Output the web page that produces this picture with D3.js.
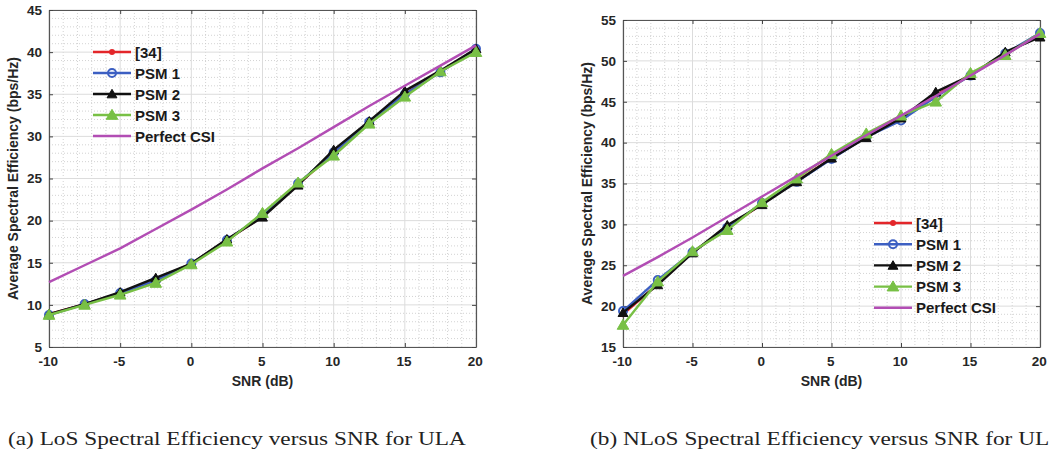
<!DOCTYPE html>
<html>
<head>
<meta charset="utf-8">
<script src="https://d3js.org/d3.v7.min.js"></script>
<style>
  body { margin: 0; background: #fff; }
  svg { display: block; }
</style>
</head>
<body>
<svg id="vis"></svg>
<script>
// ---- data ----
const snr = [-10, -7.5, -5, -2.5, 0, 2.5, 5, 7.5, 10, 12.5, 15, 17.5, 20];
const seriesNames = ["[34]", "PSM 1", "PSM 2", "PSM 3", "Perfect CSI"];

// (a) LoS
const losRef34   = [8.9, 10.1, 11.4, 12.9, 14.9, 17.7, 20.5, 24.3, 28.0, 31.7, 35.0, 37.7, 40.3];
const losPsm1    = [8.8, 10.1, 11.4, 12.9, 14.9, 17.7, 20.6, 24.4, 28.1, 31.7, 35.0, 37.6, 40.4];
const losPsm2    = [8.9, 10.1, 11.5, 13.2, 14.9, 17.8, 20.4, 24.2, 28.4, 31.8, 35.4, 37.8, 40.4];
const losPsm3    = [8.8, 10.0, 11.2, 12.6, 14.8, 17.5, 20.9, 24.5, 27.7, 31.5, 34.7, 37.7, 40.0];
const losPerfect = [12.7, 14.7, 16.7, 19.0, 21.3, 23.7, 26.2, 28.6, 31.1, 33.6, 36.0, 38.4, 40.8];

// (b) NLoS
const nlosRef34   = [19.0, 22.7, 26.6, 29.6, 32.5, 35.3, 38.1, 40.7, 43.0, 45.8, 48.3, 50.9, 53.2];
const nlosPsm1    = [19.4, 23.2, 26.6, 29.6, 32.6, 35.2, 38.0, 40.7, 42.7, 45.6, 48.2, 50.9, 53.4];
const nlosPsm2    = [19.2, 22.6, 26.5, 29.9, 32.4, 35.2, 38.1, 40.6, 43.0, 46.2, 48.2, 51.1, 52.9];
const nlosPsm3    = [17.7, 23.0, 26.7, 29.3, 32.7, 35.6, 38.6, 41.1, 43.3, 45.0, 48.5, 50.7, 53.4];
const nlosPerfect = [23.7, 26.0, 28.4, 30.9, 33.4, 35.9, 38.4, 40.9, 43.3, 45.7, 48.2, 50.7, 53.3];

const xTicks = [-10, -5, 0, 5, 10, 15, 20];
const losYTicks = [5, 10, 15, 20, 25, 30, 35, 40, 45];
const nlosYTicks = [15, 20, 25, 30, 35, 40, 45, 50, 55];

const captionA = "(a) LoS Spectral Efficiency versus SNR for ULA";
const captionB = "(b) NLoS Spectral Efficiency versus SNR for ULA";

// ---- styles ----
const colors = ["#e3262a", "#3c5fc2", "#111111", "#78c045", "#b24db4"];
const markers = ["dot", "circle", "triangle", "triangleBig", "none"];

const width = 1049, height = 455;
const svg = d3.select("#vis").attr("width", width).attr("height", height);
const font = "'Liberation Sans', Arial, sans-serif";
const fmt = d => String(d);   // plain hyphen minus like the original

function drawMarker(g, type, color, x, y) {
    if (type === "dot") {
        g.append("circle").attr("cx", x).attr("cy", y).attr("r", 3).attr("fill", color);
    } else if (type === "circle") {
        g.append("circle").attr("cx", x).attr("cy", y).attr("r", 4)
            .attr("fill", "none").attr("stroke", color).attr("stroke-width", 2);
    } else if (type === "triangle" || type === "triangleBig") {
        let s = type === "triangle" ? 42 : 58;
        g.append("path").attr("d", d3.symbol(d3.symbolTriangle, s)())
            .attr("transform", `translate(${x},${y + 1})`)
            .attr("fill", color).attr("stroke", color).attr("stroke-width", 1);
    }
}

function drawPanel(p) {
    let x = d3.scaleLinear().domain([-10, 20]).range([p.left, p.right]);
    let y = d3.scaleLinear().domain(p.yDomain).range([p.bottom, p.top]);
    let g = svg.append("g");

    // minor dotted grid, every 1 unit
    let minorX = d3.range(-10, 21, 1).filter(v => v % 5 !== 0);
    let minorY = d3.range(p.yDomain[0], p.yDomain[1] + 1, 1).filter(v => v % 5 !== 0);
    g.selectAll(".mx").data(minorX).join("line")
        .attr("x1", d => x(d)).attr("x2", d => x(d)).attr("y1", p.top).attr("y2", p.bottom)
        .attr("stroke", "#c8c8c8").attr("stroke-width", 0.8).attr("stroke-dasharray", "1,2");
    g.selectAll(".my").data(minorY).join("line")
        .attr("y1", d => y(d)).attr("y2", d => y(d)).attr("x1", p.left).attr("x2", p.right)
        .attr("stroke", "#c8c8c8").attr("stroke-width", 0.8).attr("stroke-dasharray", "1,2");

    // major grid
    g.selectAll(".gx").data(xTicks).join("line")
        .attr("x1", d => x(d)).attr("x2", d => x(d)).attr("y1", p.top).attr("y2", p.bottom)
        .attr("stroke", "#dcdcdc").attr("stroke-width", 1);
    g.selectAll(".gy").data(p.yTicks).join("line")
        .attr("y1", d => y(d)).attr("y2", d => y(d)).attr("x1", p.left).attr("x2", p.right)
        .attr("stroke", "#dcdcdc").attr("stroke-width", 1);

    // axes (inward ticks on all sides)
    let axB = g.append("g").attr("transform", `translate(0,${p.bottom})`)
        .call(d3.axisBottom(x).tickValues(xTicks).tickFormat(fmt)
            .tickSizeInner(-4).tickSizeOuter(0).tickPadding(9));
    let axT = g.append("g").attr("transform", `translate(0,${p.top})`)
        .call(d3.axisTop(x).tickValues(xTicks).tickSizeInner(-4).tickSizeOuter(0).tickFormat(""));
    let axL = g.append("g").attr("transform", `translate(${p.left},0)`)
        .call(d3.axisLeft(y).tickValues(p.yTicks).tickFormat(fmt)
            .tickSizeInner(-4).tickSizeOuter(0).tickPadding(7));
    let axR = g.append("g").attr("transform", `translate(${p.right},0)`)
        .call(d3.axisRight(y).tickValues(p.yTicks).tickSizeInner(-4).tickSizeOuter(0).tickFormat(""));
    [axB, axT, axL, axR].forEach(a => {
        a.select(".domain").attr("stroke", "#555").attr("stroke-width", 1.2);
        a.selectAll(".tick line").attr("stroke", "#444");
        a.selectAll("text").attr("font-family", font).attr("font-size", 13.5)
            .attr("font-weight", "bold").attr("fill", "#262626");
    });
    axB.selectAll("text").attr("dx", "-0.1em");

    // axis labels
    g.append("text").attr("x", (p.left + p.right) / 2).attr("y", p.bottom + 39)
        .attr("text-anchor", "middle").attr("font-family", font).attr("font-size", 14)
        .attr("font-weight", "bold").attr("fill", "#262626").text("SNR (dB)");
    g.append("text")
        .attr("transform", `translate(${p.left - 31},${(p.top + p.bottom) / 2})rotate(-90)`)
        .attr("text-anchor", "middle").attr("font-family", font).attr("font-size", 14)
        .attr("font-weight", "bold").attr("fill", "#262626")
        .text("Average Spectral Efficiency (bps/Hz)");

    // series
    let line = d3.line().x((d, i) => x(snr[i])).y(d => y(d));
    p.series.forEach((vals, k) => {
        g.append("path").datum(vals).attr("d", line)
            .attr("fill", "none").attr("stroke", colors[k]).attr("stroke-width", 2.4)
            .attr("stroke-linejoin", "round");
        if (markers[k] !== "none") {
            vals.forEach((v, i) => drawMarker(g, markers[k], colors[k], x(snr[i]), y(v)));
        }
    });

    // legend
    seriesNames.forEach((name, k) => {
        let ly = p.legY + k * p.legStep;
        g.append("line").attr("x1", p.legX).attr("x2", p.legX + 38).attr("y1", ly).attr("y2", ly)
            .attr("stroke", colors[k]).attr("stroke-width", 2.4);
        if (markers[k] !== "none") drawMarker(g, markers[k], colors[k], p.legX + 19, ly);
        g.append("text").attr("x", p.legX + 42).attr("y", ly + 5.5)
            .attr("font-family", font).attr("font-size", 15).attr("font-weight", "bold")
            .attr("fill", "#1a1a1a").text(name);
    });
}

drawPanel({
    left: 49, right: 476, top: 10, bottom: 347,
    yDomain: [5, 45], yTicks: losYTicks,
    series: [losRef34, losPsm1, losPsm2, losPsm3, losPerfect],
    legX: 93, legY: 52, legStep: 21
});

drawPanel({
    left: 623, right: 1040, top: 20, bottom: 347,
    yDomain: [15, 55], yTicks: nlosYTicks,
    series: [nlosRef34, nlosPsm1, nlosPsm2, nlosPsm3, nlosPerfect],
    legX: 874, legY: 223, legStep: 21.2
});

// captions
let capFont = "'Liberation Serif', 'Times New Roman', serif";
let capA = svg.append("text").attr("x", 0).attr("y", 0)
    .attr("font-family", capFont).attr("font-size", 19.5).attr("fill", "#222").text(captionA);
let sx = 458 / capA.node().getComputedTextLength();
capA.attr("transform", `translate(8,445)scale(${sx},1)`);
svg.append("text").attr("x", 0).attr("y", 0)
    .attr("font-family", capFont).attr("font-size", 19.5).attr("fill", "#222")
    .attr("transform", `translate(590,445)scale(${sx},1)`).text(captionB);
</script>
</body>
</html>
